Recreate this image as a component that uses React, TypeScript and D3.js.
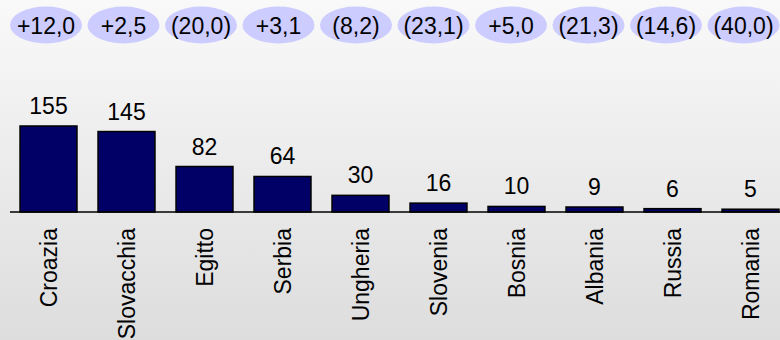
import React, { useEffect, useRef } from 'react';
import * as d3 from 'd3';

const countries = [
  'Croazia',
  'Slovacchia',
  'Egitto',
  'Serbia',
  'Ungheria',
  'Slovenia',
  'Bosnia',
  'Albania',
  'Russia',
  'Romania',
];
const values = [155, 145, 82, 64, 30, 16, 10, 9, 6, 5];
const changes = [
  '+12,0',
  '+2,5',
  '(20,0)',
  '+3,1',
  '(8,2)',
  '(23,1)',
  '+5,0',
  '(21,3)',
  '(14,6)',
  '(40,0)',
];

const App: React.FC = () => {
  const ref = useRef<HTMLDivElement>(null);

  useEffect(() => {
    if (!ref.current) return;
    const width = 780;
    const height = 340;
    const baseline = 212;
    const font = 'Arial, "Liberation Sans", sans-serif';

    d3.select(ref.current).select('svg').remove();

    const svg = d3
      .select(ref.current)
      .append('svg')
      .attr('width', width)
      .attr('height', height)
      .style('display', 'block');

    const grad = svg
      .append('defs')
      .append('linearGradient')
      .attr('id', 'bg')
      .attr('x1', 0)
      .attr('y1', 0)
      .attr('x2', 0)
      .attr('y2', 1);
    grad.append('stop').attr('offset', '0%').attr('stop-color', '#f9f9f9');
    grad.append('stop').attr('offset', '100%').attr('stop-color', '#dddddd');

    svg
      .append('rect')
      .attr('width', width)
      .attr('height', height)
      .attr('fill', 'url(#bg)');

    const x = d3
      .scaleBand<string>()
      .domain(countries)
      .range([9.5, 789.5])
      .paddingInner(0.27)
      .paddingOuter(0.135);

    const y = d3
      .scaleLinear()
      .domain([0, 155])
      .range([baseline, 126]);

    // bubbles with the changes
    const bx = d3
      .scaleBand<string>()
      .domain(countries)
      .range([7.25, 782.25]);

    const bubbles = svg
      .selectAll('g.bubble')
      .data(countries)
      .enter()
      .append('g')
      .attr('transform', (d) => `translate(${bx(d)! + bx.bandwidth() / 2},25)`);

    bubbles
      .append('ellipse')
      .attr('rx', 36)
      .attr('ry', 18.5)
      .attr('fill', '#ccccff');

    bubbles
      .append('text')
      .attr('y', 9)
      .attr('text-anchor', 'middle')
      .style('font-family', font)
      .style('font-size', '23px')
      .attr('fill', '#000')
      .text((d, i) => changes[i]);

    // bars
    svg
      .selectAll('rect.bar')
      .data(values)
      .enter()
      .append('rect')
      .attr('class', 'bar')
      .attr('x', (d, i) => x(countries[i])!)
      .attr('y', (d) => y(d))
      .attr('width', x.bandwidth())
      .attr('height', (d) => baseline - y(d))
      .attr('fill', '#000066')
      .attr('stroke', '#000')
      .attr('stroke-width', 1.5);

    svg
      .append('line')
      .attr('x1', 10)
      .attr('x2', width)
      .attr('y1', baseline)
      .attr('y2', baseline)
      .attr('stroke', '#000')
      .attr('stroke-width', 1.5);

    // value labels
    svg
      .selectAll('text.val')
      .data(values)
      .enter()
      .append('text')
      .attr('class', 'val')
      .attr('x', (d, i) => x(countries[i])! + x.bandwidth() / 2)
      .attr('y', (d) => y(d) - 12)
      .attr('text-anchor', 'middle')
      .style('font-family', font)
      .style('font-size', '23px')
      .attr('fill', '#000')
      .text((d) => d);

    // category labels
    svg
      .selectAll('text.cat')
      .data(countries)
      .enter()
      .append('text')
      .attr('class', 'cat')
      .attr(
        'transform',
        (d) => `translate(${x(d)! + x.bandwidth() / 2 + 8},228) rotate(-90)`,
      )
      .attr('text-anchor', 'end')
      .style('font-family', font)
      .style('font-size', '23px')
      .attr('fill', '#000')
      .text((d) => d);
  }, []);

  return <div ref={ref} style={{ position: 'absolute', left: 0, top: 0 }}></div>;
};

export default App;
